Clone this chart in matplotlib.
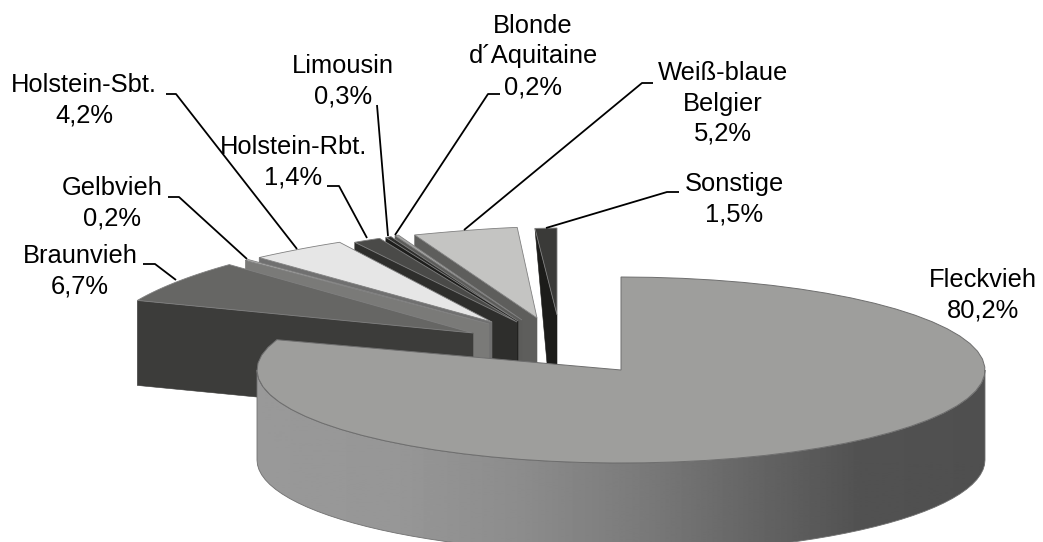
import numpy as np
from matplotlib import pyplot as plt
from matplotlib.patches import Polygon

# Rassen und Anteile in Prozent
names = ['Fleckvieh', 'Braunvieh', 'Gelbvieh', 'Holstein-Sbt.', 'Holstein-Rbt.',
         'Limousin', 'Blonde\nd´Aquitaine', 'Weiß-blaue\nBelgier', 'Sonstige']
shares = [80.2, 6.7, 0.2, 4.2, 1.4, 0.3, 0.2, 5.2, 1.5]
share_labels = ['80,2%', '6,7%', '0,2%', '4,2%', '1,4%', '0,3%', '0,2%', '5,2%', '1,5%']

# Farben: Oberseite, Schnittflaeche
top_colors = ['#9e9e9c', '#666664', '#b4b4b2', '#e6e6e6', '#4a4a48', '#2e2e2c', '#a8a8a6', '#c4c4c2', '#3a3a38']
side_colors = ['#8c8c8c', '#3c3c3a', '#7a7a78', '#707070', '#2e2e2c', '#1e1e1c', '#5c5c5a', '#5e5e5c', '#1c1c1a']

# Geometrie des 3D-Kreises (Pixel)
cx, cy = 621, 370
rx, ry = 364, 93
depth = 90
# Versatz der Spitze je Stueck, Radius x am Anfang/Ende, Radius y, Tiefe
shift_x = [0, -148, -132, -129, -104, -103, -99, -84, -64]
shift_y = [0, -37, -46, -48, -48, -49, -50, -52, -55]
rx_start = [364, 355, 334, 323, 315, 302, 302, 299, 234]
rx_end = [364, 334, 334, 296, 314, 302, 302, 210, 1]
ry_slice = [93, 100, 93, 93, 93, 93, 93, 91, 87]
depth_slice = [90, 85, 85, 85, 85, 85, 85, 85, 85]

# Beschriftung: Textmitte und erste Zeile, Abstand 30 px
label_x = [983, 80, 112, 84, 293, 343, 533, 723, 734]
label_y = [280, 256, 188, 85, 147, 66, 26, 73, 184]
leader_x = [None, [143, 155, 176], [168, 179, 247], [166, 176, 297], [327, 339, 367],
            [377, 388], [500, 488, 395], [653, 642, 464], [679, 667, 546]]
leader_y = [None, [264, 264, 280], [197, 197, 259], [94, 94, 249], [186, 186, 238],
            [105, 236], [94, 94, 235], [83, 83, 230], [192, 192, 228]]

plt.rcParams['font.family'] = ['Liberation Sans', 'DejaVu Sans']

fig = plt.figure(figsize=(10.43, 5.42), dpi=100)
ax = fig.add_axes([0, 0, 1, 1])
ax.axis('off')

total = sum(shares)
angles = 90 - np.cumsum([0] + shares) / total * 360  # im Uhrzeigersinn ab oben


def arc(a0, a1, ax_r0, ax_r1, ay_r, x0, y0):
    t = np.radians(np.linspace(a0, a1, 60))
    rr = np.linspace(ax_r0, ax_r1, 60)
    return x0 + rr * np.cos(t), y0 - ay_r * np.sin(t)


# kleine Stuecke von hinten rechts nach vorne links
for i in range(len(shares) - 1, 0, -1):
    x0 = cx + shift_x[i]
    y0 = cy + shift_y[i]
    xa, ya = arc(angles[i], angles[i + 1], rx_start[i], rx_end[i], ry_slice[i], x0, y0)
    # Schnittflaeche an der linken Kante
    if i == 8:
        # Sonstige laeuft nach unten spitz zu
        side = [(xa[0], ya[0]), (x0, y0), (x0, y0 + 160)]
    else:
        side = [(xa[0], ya[0]), (x0, y0), (x0, y0 + depth_slice[i]), (xa[0], ya[0] + depth_slice[i])]
    ax.add_patch(Polygon(side, closed=True, fc=side_colors[i], ec=side_colors[i], lw=0.4))
    top = np.column_stack([np.r_[x0, xa], np.r_[y0, ya]])
    ax.add_patch(Polygon(top, closed=True, fc=top_colors[i], ec='#808080', lw=0.6))

# Fleckvieh: Mantel mit Verlauf, dann Oberseite
xw, yw = arc(180, 360, rx, rx, ry, cx, cy)
wall = np.column_stack([np.r_[xw, xw[::-1]], np.r_[yw, yw[::-1] + depth]])
wall_patch = Polygon(wall, closed=True, fc='none', ec='#707070', lw=0.6, zorder=3)
ax.add_patch(wall_patch)
gx = np.arange(cx - rx, cx + rx + 1)
shade = np.interp(gx, [257, 400, 520, 640, 760, 860, 985], [0.60, 0.59, 0.55, 0.48, 0.39, 0.32, 0.31])
img = ax.imshow(shade[np.newaxis, :], cmap='gray', vmin=0, vmax=1, aspect='auto',
                extent=[gx[0], gx[-1], 560, 360], zorder=2)
img.set_clip_path(wall_patch)
ax.set_xlim(0, 1043)
ax.set_ylim(542, 0)

xt, yt = arc(angles[0], angles[1], rx, rx, ry, cx, cy)
top = np.column_stack([np.r_[cx, xt], np.r_[cy, yt]])
ax.add_patch(Polygon(top, closed=True, fc=top_colors[0], ec='#6e6e6e', lw=0.7, zorder=4))

# Texte und Fuehrungslinien
for i in range(len(names)):
    lines = (names[i] + '\n' + share_labels[i]).split('\n')
    for k, line in enumerate(lines):
        ax.text(label_x[i], label_y[i] + k * 30.5, line, ha='center', va='center',
                fontsize=18.4, color='black', zorder=6)
    if leader_x[i] is not None:
        ax.plot(leader_x[i], leader_y[i], color='black', lw=1.3, zorder=5, solid_capstyle='butt')

fig.savefig('out.png', dpi=100)
